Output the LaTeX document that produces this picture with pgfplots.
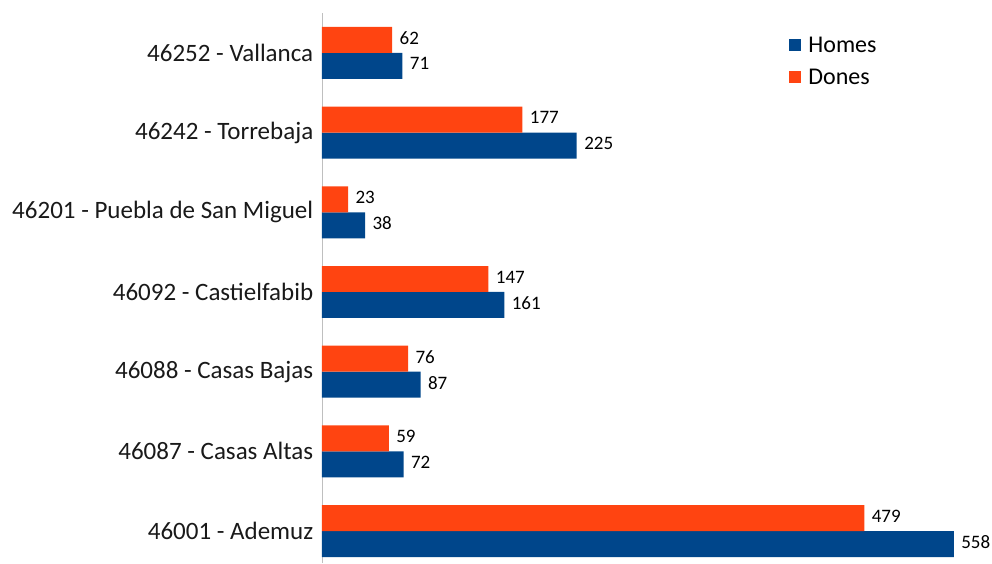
\documentclass[border=0pt]{standalone}
\usepackage{pgfplots}
\pgfplotsset{compat=1.18}
\usepackage{fontspec}
\setmainfont{Carlito}
\definecolor{homes}{RGB}{0,70,139}
\definecolor{dones}{RGB}{255,68,17}
\begin{document}
\begin{tikzpicture}
\begin{axis}[
  at={(0,0)}, anchor=south west,
  scale only axis, width=668pt, height=550pt,
  xmin=0, xmax=590, ymin=-0.4, ymax=6.5,
  xbar, bar width=0.326,
  axis lines*=left,
  x axis line style={draw=none},
  y axis line style={draw=black!25, line width=0.8pt},
  xtick=\empty,
  ytick={0,1,2,3,4,5,6},
  yticklabels={46001 - Ademuz, 46087 - Casas Altas, 46088 - Casas Bajas, 46092 - Castielfabib, 46201 - Puebla de San Miguel, 46242 - Torrebaja, 46252 - Vallanca},
  ytick style={draw=none},
  yticklabel style={font=\fontsize{25}{28}\selectfont, text=black!90, xshift=-1pt},
  /pgf/number format/assume math mode=true,
  nodes near coords,
  nodes near coords style={font=\fontsize{19}{21}\selectfont, anchor=west, xshift=4pt, yshift=2pt, text=black},
  legend style={at={(0.695,0.964)}, anchor=north west, draw=none, fill=none,
    font=\fontsize{24}{26}\selectfont, row sep=11pt,
    legend cell align=left,
    /tikz/every odd column/.append style={column sep=5pt}},
  legend image code/.code={\fill[#1] (0pt,-6pt) rectangle (12pt,6pt);},
  every axis plot/.append style={draw=none},
]
\addplot[fill=homes, bar shift=-0.163] coordinates {(558,0) (72,1) (87,2) (161,3) (38,4) (225,5) (71,6)};
\addplot[fill=dones, bar shift=0.163] coordinates {(479,0) (59,1) (76,2) (147,3) (23,4) (177,5) (62,6)};
\legend{Homes, Dones}
\end{axis}
\pgfresetboundingbox
\useasboundingbox (-322pt,0pt) rectangle (670pt,563pt);
\end{tikzpicture}
\end{document}
